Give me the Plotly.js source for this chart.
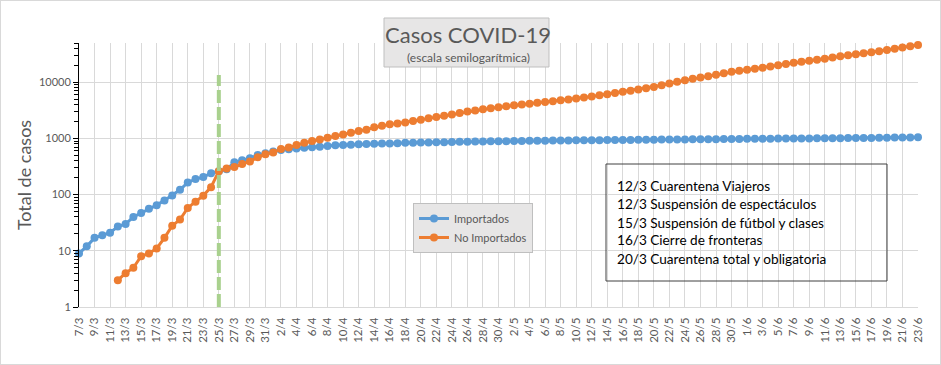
<!DOCTYPE html>
<html>
<head>
<meta charset="utf-8">
<script src="https://cdn.plot.ly/plotly-3.0.1.min.js"></script>
<style>
html,body{margin:0;padding:0;background:#fff;}
#wrap{position:relative;width:941px;height:365px;}
#chart{width:941px;height:365px;}
#frame{position:absolute;left:0;top:0;width:941px;height:365px;box-sizing:border-box;border:1px solid #d9d9d9;pointer-events:none;}
</style>
</head>
<body>
<div id="wrap"><div id="chart"></div><div id="frame"></div></div>
<script>
// Category labels (one per day, 7/3 .. 23/6)
const dates = [
 '7/3','8/3','9/3','10/3','11/3','12/3','13/3','14/3','15/3','16/3','17/3','18/3','19/3','20/3','21/3','22/3','23/3','24/3','25/3','26/3','27/3','28/3','29/3','30/3','31/3',
 '1/4','2/4','3/4','4/4','5/4','6/4','7/4','8/4','9/4','10/4','11/4','12/4','13/4','14/4','15/4','16/4','17/4','18/4','19/4','20/4','21/4','22/4','23/4','24/4','25/4','26/4','27/4','28/4','29/4','30/4',
 '1/5','2/5','3/5','4/5','5/5','6/5','7/5','8/5','9/5','10/5','11/5','12/5','13/5','14/5','15/5','16/5','17/5','18/5','19/5','20/5','21/5','22/5','23/5','24/5','25/5','26/5','27/5','28/5','29/5','30/5','31/5',
 '1/6','2/6','3/6','4/6','5/6','6/6','7/6','8/6','9/6','10/6','11/6','12/6','13/6','14/6','15/6','16/6','17/6','18/6','19/6','20/6','21/6','22/6','23/6'
];

// Importados (total)
const importados = [
 9,12,17,19,21,27,30,40,47,56,65,79,97,122,165,189,205,240,262,282,376,408,445,506,545,
 585,620,645,665,680,695,715,735,755,765,775,785,795,805,810,817,825,835,840,845,850,855,860,865,870,875,880,885,890,
 893,896,900,905,908,910,913,916,920,922,925,928,930,933,935,938,940,943,946,950,952,955,957,960,962,965,967,970,972,975,978,
 980,983,985,988,990,993,996,998,1000,1003,1006,1008,1010,1013,1016,1018,1020,1023,1026,1030,1035,1040,1045,1050
];

// No Importados (total)
const noImportados = [
 null,null,null,null,null,3,4,5,8,9,11,17,28,36,58,75,96,136,262,292,310,350,390,462,521,
 565,647,693,763,839,898,961,1030,1103,1181,1265,1355,1431,1575,1687,1781,1855,1932,2042,2150,2277,2404,2530,2680,2850,3020,3150,3300,3450,3600,
 3750,3900,4030,4160,4300,4450,4600,4780,4960,5150,5350,5580,5850,6150,6450,6750,7050,7400,7800,8250,8850,9500,10200,10900,11500,12100,12800,13600,14500,15400,16100,
 16700,17400,18200,19000,20100,21200,22200,23300,24200,25100,26200,27600,29000,30300,31500,32800,34200,35800,37500,39400,41500,43700,46200
];

const seriesNames = ['Importados','No Importados'];
const markerDate = '25/3';
const events = [
 '12/3 Cuarentena Viajeros',
 '12/3 Suspensión de espectáculos',
 '15/3 Suspensión de fútbol y clases',
 '16/3 Cierre de fronteras',
 '20/3 Cuarentena total y obligatoria'
];
const yTicks = [1,10,100,1000,10000];

const FONT = 'Lato, "Open Sans", sans-serif';
const GRAY = '#595959';

// plot area in px: x 79..918, y 43..307
const L=79, R=918, T=43, B=307;
const px = x => (x-L)/(R-L);
const py = y => (B-y)/(B-T);

const tickVals = dates.filter((d,i)=>i%2===0);

const traces = [
 {x: dates, y: importados, name: seriesNames[0], type:'scatter', mode:'lines+markers',
  line:{color:'#5b9bd5', width:3}, marker:{color:'#5b9bd5', size:8}, cliponaxis:false, legendgroup:'a'},
 {x: dates, y: noImportados, name: seriesNames[1], type:'scatter', mode:'lines+markers',
  line:{color:'#ed7d31', width:3}, marker:{color:'#ed7d31', size:8}, cliponaxis:false, legendgroup:'b'}
];

const annotations = [
 {xref:'paper', yref:'paper', x:px(468), y:py(58), xanchor:'center', yanchor:'middle', showarrow:false,
  text:'(escala semilogarítmica)', font:{family:FONT, size:12, color:GRAY}}
];
const evY = [186, 204.3, 222.7, 240.3, 258.7];
events.forEach((t,i)=>{
 annotations.push({xref:'paper', yref:'paper', x:px(615), y:py(evY[i]), xanchor:'left', yanchor:'middle',
  showarrow:false, text:t, font:{family:FONT, size:13.6, color:'#000'}});
});

const shapes = [
 // title box
 {type:'rect', xref:'paper', yref:'paper', x0:px(384), x1:px(549), y0:py(67), y1:py(18),
  fillcolor:'#e7e6e6', line:{color:'#bfbfbf', width:1}, layer:'above'},
 // events box
 {type:'rect', xref:'paper', yref:'paper', x0:px(606), x1:px(887), y0:py(281), y1:py(164),
  fillcolor:'rgba(0,0,0,0)', line:{color:'#404040', width:1}, layer:'above'},
 // 25/3 marker line
 {type:'line', xref:'x', yref:'paper', x0:dates.indexOf(markerDate), x1:dates.indexOf(markerDate), y0:0, y1:py(75),
  line:{color:'#a9d18e', width:4, dash:'13px,4px'}, layer:'above'}
];

const layout = {
 width:941, height:365,
 margin:{l:L, r:941-R, t:T, b:365-B, pad:0},
 paper_bgcolor:'#fff', plot_bgcolor:'#fff',
 font:{family:FONT, color:GRAY, size:11},
 title:{text:'Casos COVID-19', x:px(468), xanchor:'center', xref:'paper', yref:'container', y:1-35/365, yanchor:'middle',
  font:{family:FONT, size:22, color:GRAY}},
 showlegend:true,
 legend:{x:px(413), y:py(203), xanchor:'left', yanchor:'top', bgcolor:'#e7e6e6', bordercolor:'#bfbfbf', borderwidth:1,
  font:{family:FONT, size:11, color:GRAY}, itemwidth:30, tracegroupgap:6, traceorder:'normal'},
 xaxis:{type:'category', range:[0, dates.length-1], tickmode:'array', tickvals:tickVals, ticktext:tickVals,
  tickangle:-90, showgrid:true, gridcolor:'#d9d9d9', gridwidth:1, showline:true, linecolor:'#d9d9d9', linewidth:1,
  ticks:'', ticklabelstandoff:5, tickfont:{family:FONT, size:11.5, color:GRAY}, zeroline:false, fixedrange:true},
 yaxis:{type:'log', range:[0, Math.log10(50000)], tickmode:'array', tickvals:yTicks, ticktext:yTicks.map(String),
  showgrid:true, gridcolor:'#d9d9d9', gridwidth:1, showline:true, linecolor:'#000', linewidth:1,
  ticks:'outside', ticklen:5, tickcolor:'#000', tickwidth:1,
  minor:{ticks:'outside', ticklen:4, tickcolor:'#000', dtick:'D1', showgrid:false},
  tickfont:{family:FONT, size:11, color:GRAY}, zeroline:false,
  title:{text:'Total de casos', font:{family:FONT, size:18, color:GRAY}, standoff:2}},
 annotations: annotations,
 shapes: shapes
};

Plotly.newPlot('chart', traces, layout, {displayModeBar:false, staticPlot:true});
</script>
</body>
</html>
